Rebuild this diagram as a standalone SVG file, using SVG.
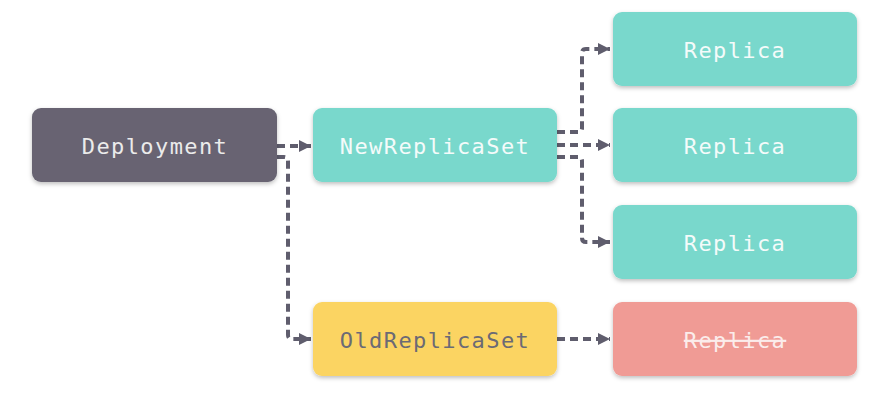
<svg xmlns="http://www.w3.org/2000/svg" width="893" height="403" viewBox="0 0 893 403">
<defs>
<filter id="sh" x="-10%" y="-20%" width="120%" height="150%">
<feDropShadow dx="0" dy="2" stdDeviation="2" flood-color="#000" flood-opacity="0.25"/>
</filter>
<marker id="arr" markerWidth="12" markerHeight="12" refX="10" refY="5" orient="auto" markerUnits="userSpaceOnUse" viewBox="0 0 10 10">
<path d="M0,0 L10,5 L0,10 z" fill="#5f5d6d"/>
</marker>
<style>
.box{filter:url(#sh);}
.lbl{font-family:"DejaVu Sans Mono","Liberation Mono",monospace;font-size:22px;letter-spacing:1.4px;text-anchor:middle;dominant-baseline:central;}
.c{fill:none;stroke:#5f5d6d;stroke-width:4;stroke-dasharray:8 5;marker-end:url(#arr);}
</style>
</defs>
<rect width="893" height="403" fill="#fff"/>
<g id="connectors">
<path class="c" d="M277,146 H311"/>
<path class="c" d="M277,157 H284 Q288,157 288,161 V335 Q288,339 292,339 H311"/>
<path class="c" d="M557,132 H578 Q582,132 582,128 V53 Q582,49 586,49 H610"/>
<path class="c" d="M557,145 H610"/>
<path class="c" d="M557,157 H578 Q582,157 582,161 V238 Q582,242 586,242 H610"/>
<path class="c" d="M557,339 H610"/>
</g>
<g id="deployment">
<rect class="box" x="32" y="108" width="245" height="74" rx="9" fill="#676472"/>
<text class="lbl" x="155" y="146" fill="#ebebeb">Deployment</text>
</g>
<g id="newreplicaset">
<rect class="box" x="313" y="108" width="244" height="74" rx="9" fill="#79d8cc"/>
<text class="lbl" x="435" y="146" fill="#f4fbfa">NewReplicaSet</text>
</g>
<g id="oldreplicaset">
<rect class="box" x="313" y="302" width="244" height="74" rx="9" fill="#fbd462"/>
<text class="lbl" x="435" y="340" fill="#6b6a75">OldReplicaSet</text>
</g>
<g id="replica1">
<rect class="box" x="613" y="12" width="244" height="74" rx="9" fill="#79d8cc"/>
<text class="lbl" x="735" y="50" fill="#f4fbfa">Replica</text>
</g>
<g id="replica2">
<rect class="box" x="613" y="108" width="244" height="74" rx="9" fill="#79d8cc"/>
<text class="lbl" x="735" y="146" fill="#f4fbfa">Replica</text>
</g>
<g id="replica3">
<rect class="box" x="613" y="205" width="244" height="74" rx="9" fill="#79d8cc"/>
<text class="lbl" x="735" y="243" fill="#f4fbfa">Replica</text>
</g>
<g id="replica-old">
<rect class="box" x="613" y="302" width="244" height="74" rx="9" fill="#f09b95"/>
<text class="lbl" x="735" y="340" fill="#fbeceb" text-decoration="line-through">Replica</text>
</g>
</svg>
